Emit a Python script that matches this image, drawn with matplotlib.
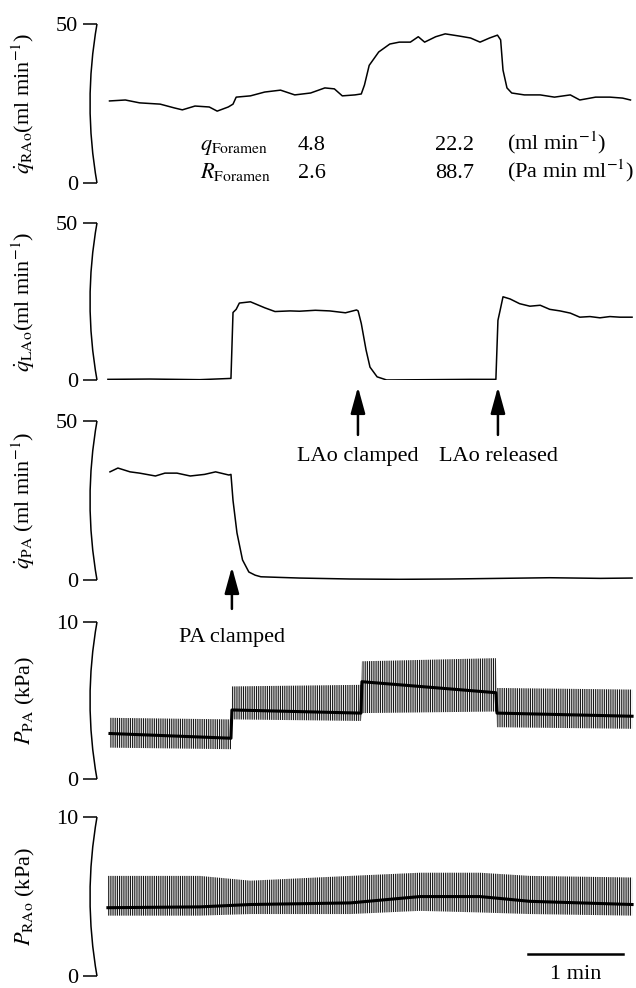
import matplotlib
matplotlib.use("Agg")
import matplotlib.pyplot as plt
from matplotlib.path import Path
from matplotlib.patches import PathPatch

plt.rcParams["font.family"] = ["Liberation Serif", "DejaVu Serif"]
plt.rcParams["mathtext.fontset"] = "stix"
plt.rcParams["hatch.linewidth"] = 0.65
plt.rcParams["font.size"] = 16

# time in seconds from start of recording
t_rao = [1, 11, 20, 33, 42, 47, 55, 64, 69, 76, 79, 81, 90, 99, 109, 118, 128, 137,
         143, 148, 156, 160, 162, 165, 171, 178, 184, 191, 196, 200, 207, 213, 222,
         229, 235, 241, 246, 248, 249.5, 252, 255, 263, 273, 282, 292, 298, 308, 317,
         325, 330]
q_rao = [25.8, 26.1, 25.2, 24.8, 23.6, 23.0, 24.2, 23.9, 22.6, 23.9, 24.8, 27.0, 27.4,
         28.6, 29.2, 27.7, 28.3, 29.9, 29.6, 27.4, 27.7, 28.0, 30.8, 37.0, 41.2, 43.7,
         44.3, 44.3, 46.0, 44.3, 46.0, 46.9, 46.2, 45.6, 44.3, 45.6, 46.5, 45.0, 35.5,
         29.9, 28.3, 27.7, 27.7, 27.0, 27.7, 26.1, 27.0, 27.0, 26.7, 26.1]

t_lao = [0, 26.5, 58, 77.7, 79, 81, 83, 90, 99, 105.5, 115, 121, 131, 140, 150, 157,
         158, 160, 163, 165.5, 170, 176, 203, 229, 245, 246.3, 247.6, 249.5, 254, 260,
         266.5, 273, 279, 285.5, 292, 298, 304.4, 310.7, 317, 323.4, 331]
q_lao = [0.2, 0.3, 0.1, 0.5, 21.5, 22.5, 24.5, 24.9, 23.0, 21.8, 22.0, 21.9, 22.2,
         22.0, 21.4, 22.3, 22.0, 18.0, 9.6, 4.1, 1.0, 0.0, 0.1, 0.2, 0.2, 19.0, 22.0,
         26.5, 25.8, 24.3, 23.5, 23.8, 22.5, 22.0, 21.3, 20.0, 20.2, 19.8, 20.2, 20.0,
         20.0]

t_pa = [1.3, 6.3, 14, 20, 30, 36, 43.6, 52, 61, 68, 76.4, 77.7, 79, 81.5, 85, 89, 93,
        96.6, 108.6, 121, 153, 184, 216, 247.6, 279, 311, 331]
q_pa = [34.0, 35.2, 34.0, 33.6, 32.7, 33.6, 33.6, 32.7, 33.2, 34.0, 33.0, 33.2, 25.0,
        14.8, 6.3, 2.5, 1.5, 1.0, 0.8, 0.6, 0.3, 0.2, 0.3, 0.5, 0.7, 0.5, 0.6]

# pulsatile pressures: systolic / diastolic envelope and mean
t_ppa = [1.3, 77.7, 78.3, 159.8, 160.4, 245, 245.7, 331]
ppa_hi = [3.9, 3.8, 5.9, 6.0, 7.5, 7.7, 5.8, 5.7]
ppa_lo = [2.0, 1.9, 3.8, 3.7, 4.2, 4.3, 3.3, 3.2]
ppa_mean = [2.9, 2.6, 4.4, 4.2, 6.2, 5.5, 4.2, 4.0]

t_prao = [0, 58, 90, 153, 197, 235, 266.5, 331]
prao_hi = [6.3, 6.3, 6.0, 6.3, 6.5, 6.5, 6.3, 6.2]
prao_lo = [3.8, 3.8, 3.9, 3.9, 4.1, 4.0, 3.9, 3.8]
prao_mean = [4.3, 4.35, 4.5, 4.6, 5.0, 5.0, 4.7, 4.5]

events = {"PA clamped": 78.3, "LAo clamped": 157.9, "LAo released": 246.3}

fig = plt.figure(figsize=(6.36, 9.88), dpi=100)
rects = [(0.8148, 0.1609), (0.6154, 0.1589), (0.4130, 0.1609),
         (0.2115, 0.1589), (0.0121, 0.1609)]
axes = [fig.add_axes([0.1525, b, 0.8443, h]) for b, h in rects]

labels = [r"$\dot{q}_{\mathrm{RAo}}$(ml min$^{-1}$)",
          r"$\dot{q}_{\mathrm{LAo}}$(ml min$^{-1}$)",
          r"$\dot{q}_{\mathrm{PA}}$ (ml min$^{-1}$)",
          r"$P_{\mathrm{PA}}$ (kPa)",
          r"$P_{\mathrm{RAo}}$ (kPa)"]
tops = [50, 50, 50, 10, 10]

for ax, lab, top in zip(axes, labels, tops):
    ax.set_xlim(-6.9, 332.2)
    ax.set_ylim(0, top)
    ax.set_yticks([0, top])
    ax.tick_params(axis="y", length=10, width=1.1, pad=3.5, labelsize=16)
    ax.set_xticks([])
    for s in ax.spines.values():
        s.set_visible(False)
    ax.patch.set_alpha(0)
    verts = [(0, 1), (-0.026, 0.5), (0, 0)]
    bracket = PathPatch(Path(verts, [Path.MOVETO, Path.CURVE3, Path.CURVE3]),
                        transform=ax.transAxes, fill=False, lw=1.1, clip_on=False)
    ax.add_patch(bracket)
    ax.set_ylabel(lab, fontsize=16)
    ax.yaxis.set_label_coords(-0.112, 0.5)

axes[0].plot(t_rao, q_rao, color="black", lw=1.1)
axes[1].plot(t_lao, q_lao, color="black", lw=1.1)
axes[2].plot(t_pa, q_pa, color="black", lw=1.1)

for ax, t, hi, lo, mean in [(axes[3], t_ppa, ppa_hi, ppa_lo, ppa_mean),
                            (axes[4], t_prao, prao_hi, prao_lo, prao_mean)]:
    ax.fill_between(t, lo, hi, facecolor="white", edgecolor="black",
                    hatch="|||||||||", linewidth=0)
    ax.plot(t, mean, color="black", lw=2.2)

# foramen table
ax = axes[0]
ax.text(58, 10.4, r"$q_{\mathrm{Foramen}}$", ha="left", va="baseline")
ax.text(58, 1.6, r"$R_{\mathrm{Foramen}}$", ha="left", va="baseline")
ax.text(120, 10.4, "4.8", ha="left", va="baseline")
ax.text(120, 1.6, "2.6", ha="left", va="baseline")
ax.text(206.5, 10.4, "22.2", ha="left", va="baseline")
ax.text(206.5, 1.6, "88.7", ha="left", va="baseline")
ax.text(252, 10.4, r"(ml min$^{-1}$)", ha="left", va="baseline")
ax.text(252, 1.6, r"(Pa min ml$^{-1}$)", ha="left", va="baseline")

arrow = dict(arrowstyle="-|>,head_length=0.8,head_width=0.22", lw=1.8,
             color="black", mutation_scale=20, shrinkB=0)
axes[1].annotate("LAo clamped", xy=(events["LAo clamped"], -2.2),
                 xytext=(events["LAo clamped"], -24.5), ha="center", va="center",
                 arrowprops=dict(arrow, shrinkA=7), annotation_clip=False)
axes[1].annotate("LAo released", xy=(events["LAo released"], -2.2),
                 xytext=(events["LAo released"], -24.5), ha="center", va="center",
                 arrowprops=dict(arrow, shrinkA=7), annotation_clip=False)
axes[2].annotate("PA clamped", xy=(events["PA clamped"], 4.1),
                 xytext=(events["PA clamped"], -18.2), ha="center", va="center",
                 arrowprops=dict(arrow, shrinkA=12), annotation_clip=False)

# 1 min scale bar
axes[4].plot([265.3, 325.3], [1.4, 1.4], color="black", lw=1.8, clip_on=False)
axes[4].text(295.3, 0.1, "1 min", ha="center", va="center")

fig.savefig("out.png", dpi=100)
